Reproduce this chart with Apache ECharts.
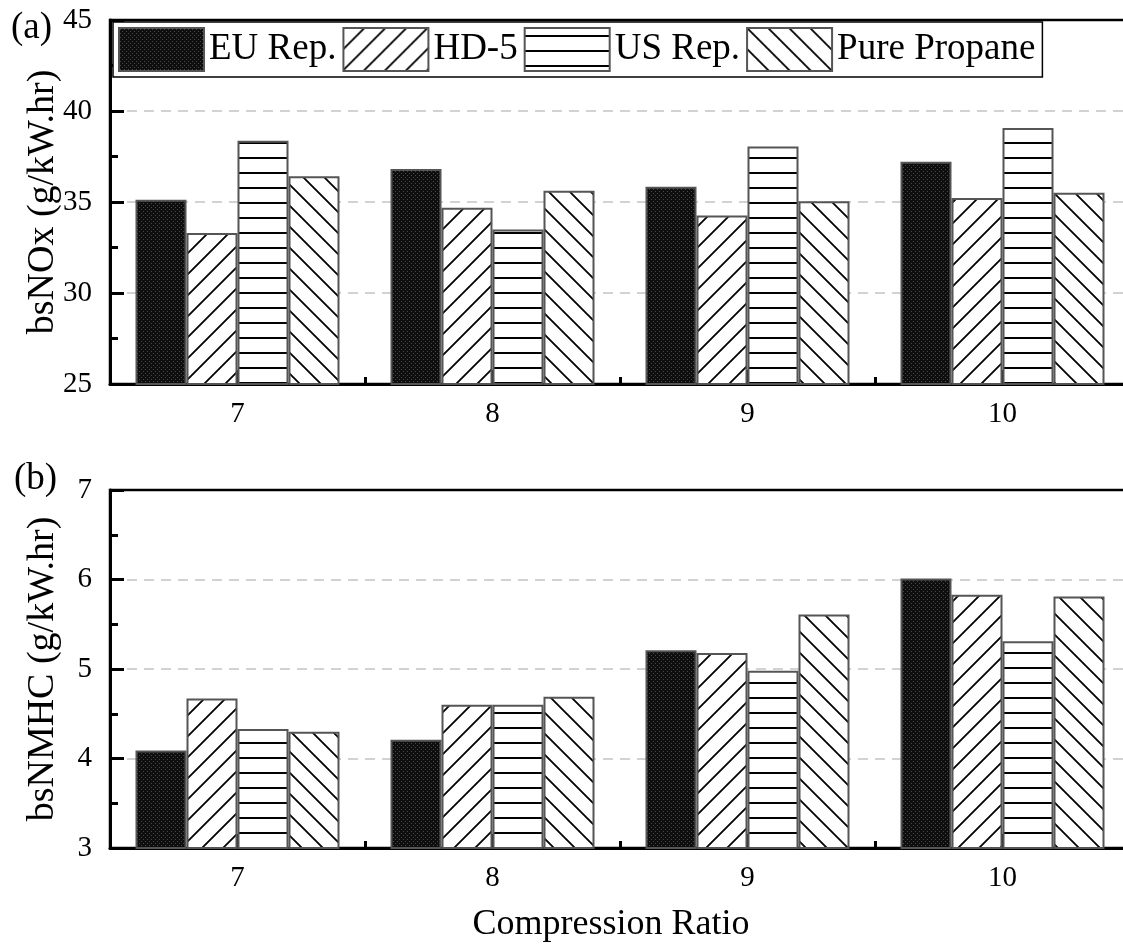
<!DOCTYPE html>
<html><head><meta charset="utf-8">
<script src="https://cdn.jsdelivr.net/npm/echarts@6/dist/echarts.min.js"></script>
<style>html,body{margin:0;padding:0;background:#fff;overflow:hidden;width:1123px;height:944px}
#wrap{width:1123px;height:944px;overflow:hidden;position:relative}
#c{width:1131px;height:944px;position:absolute;left:0;top:0}</style>
</head><body><div id="wrap"><div id="c"></div></div>
<script>
const categories = ['7', '8', '9', '10'];
const seriesNames = ['EU Rep.', 'HD-5', 'US Rep.', 'Pure Propane'];
const noxEU      = [35.13, 36.81, 35.84, 37.21];
const noxHD5     = [33.29, 34.69, 34.26, 35.22];
const noxUS      = [38.36, 33.49, 38.05, 39.06];
const noxPropane = [36.41, 35.62, 35.04, 35.51];
const nmhcEU      = [4.09, 4.21, 5.21, 6.01];
const nmhcHD5     = [4.67, 4.60, 5.18, 5.83];
const nmhcUS      = [4.33, 4.60, 4.98, 5.31];
const nmhcPropane = [4.30, 4.69, 5.61, 5.81];
const panelLabels = ['(a)', '(b)'];
const xTitle = 'Compression Ratio';
const yTitles = ['bsNOx (g/kW.hr)', 'bsNMHC (g/kW.hr)'];

const FONT = 'Liberation Serif, Times New Roman, serif';

function makePattern(kind) {
  const c = document.createElement('canvas');
  let ctx;
  if (kind === 'dots') {
    c.width = 4; c.height = 4; ctx = c.getContext('2d');
    ctx.fillStyle = '#0e0e0e'; ctx.fillRect(0, 0, 4, 4);
    ctx.fillStyle = '#4a4a4a'; ctx.fillRect(1, 1, 1, 1); ctx.fillRect(3, 3, 1, 1);
  } else if (kind === 'fwd' || kind === 'back') {
    const s = 21;
    c.width = s; c.height = s; ctx = c.getContext('2d');
    ctx.fillStyle = '#fff'; ctx.fillRect(0, 0, s, s);
    ctx.strokeStyle = '#000'; ctx.lineWidth = 1.8;
    ctx.beginPath();
    if (kind === 'fwd') {
      ctx.moveTo(-2, s + 2); ctx.lineTo(s + 2, -2);
      ctx.moveTo(-2, 2); ctx.lineTo(2, -2);
      ctx.moveTo(s - 2, s + 2); ctx.lineTo(s + 2, s - 2);
    } else {
      ctx.moveTo(-2, -2); ctx.lineTo(s + 2, s + 2);
      ctx.moveTo(s - 2, -2); ctx.lineTo(s + 2, 2);
      ctx.moveTo(-2, s - 2); ctx.lineTo(2, s + 2);
    }
    ctx.stroke();
  } else {
    c.width = 8; c.height = 15; ctx = c.getContext('2d');
    ctx.fillStyle = '#fff'; ctx.fillRect(0, 0, 8, 15);
    ctx.fillStyle = '#000'; ctx.fillRect(0, 7, 8, 2);
  }
  return { image: c, repeat: 'repeat' };
}
const patterns = [makePattern('dots'), makePattern('fwd'), makePattern('horiz'), makePattern('back')];

const chart = echarts.init(document.getElementById('c'), null, { renderer: 'canvas', width: 1131, height: 944 });

function yAxis(gi, min, max, interval, name) {
  return {
    gridIndex: gi, type: 'value', min, max, interval,
    name, nameLocation: 'middle', nameGap: 48, nameMoveOverlap: false,
    nameTextStyle: { fontSize: 38, fontFamily: FONT, color: '#000' },
    axisLine: { show: true, lineStyle: { color: '#000', width: 3 } },
    axisTick: { show: true, inside: true, length: 14, lineStyle: { color: '#000', width: 3 } },
    minorTick: { show: true, splitNumber: 2, length: 8, lineStyle: { color: '#000', width: 3 } },
    axisLabel: { fontSize: 29, margin: 18, color: '#000', fontFamily: FONT },
    splitLine: { show: true, showMinLine: false, showMaxLine: false, lineStyle: { type: [10, 7], color: '#c4c4c4', width: 1.5 } }
  };
}
function xAxisMain(gi, withName) {
  const a = {
    gridIndex: gi, type: 'category', data: categories, position: 'bottom',
    axisLine: { show: true, lineStyle: { color: '#000', width: 3 } },
    axisTick: { show: true, alignWithLabel: true, inside: true, length: 14, lineStyle: { color: '#000', width: 3 } },
    axisLabel: { fontSize: 29, margin: 16, color: '#000', fontFamily: FONT },
    splitLine: { show: false }
  };
  if (withName) {
    a.name = xTitle; a.nameLocation = 'middle'; a.nameGap = 59; a.nameMoveOverlap = false;
    a.nameTextStyle = { fontSize: 36, fontFamily: FONT, color: '#000', padding: [0, 18, 0, 0] };
  }
  return a;
}
function xAxisMinor(gi) {
  return {
    gridIndex: gi, type: 'category', data: categories, position: 'bottom', offset: 0,
    axisLine: { show: false },
    axisTick: { show: true, inside: true, length: 7, lineStyle: { color: '#000', width: 3 } },
    axisLabel: { show: false }, splitLine: { show: false }
  };
}

const noxData = [noxEU, noxHD5, noxUS, noxPropane];
const nmhcData = [nmhcEU, nmhcHD5, nmhcUS, nmhcPropane];
const series = [];
[noxData, nmhcData].forEach((set, gi) => {
  set.forEach((vals, i) => {
    series.push({
      type: 'bar', name: seriesNames[i], data: vals,
      xAxisIndex: gi * 2, yAxisIndex: gi,
      barGap: '0%', barCategoryGap: '20%',
      itemStyle: { color: patterns[i], borderColor: '#555', borderWidth: 2 },
      emphasis: { disabled: true }
    });
  });
});

chart.setOption({
  animation: false,
  backgroundColor: '#fff',
  grid: [
    { left: 110, width: 1020, top: 20, height: 364, show: true, borderColor: '#000', borderWidth: 2.5, backgroundColor: 'transparent' },
    { left: 110, width: 1020, top: 490, height: 365, show: true, borderColor: '#000', borderWidth: 2.5, backgroundColor: 'transparent' }
  ],
  legend: {
    data: seriesNames, left: 113, top: 22, orient: 'horizontal',
    itemWidth: 85, itemHeight: 43, itemGap: 6, padding: [5, 7, 5, 5],
    backgroundColor: '#fff', borderColor: '#000', borderWidth: 1.5,
    icon: 'rect', selectedMode: false,
    textStyle: { fontSize: 37, fontFamily: FONT, color: '#000' }
  },
  xAxis: [xAxisMain(0, false), xAxisMinor(0), xAxisMain(1, true), xAxisMinor(1)],
  yAxis: [yAxis(0, 25, 45, 5, yTitles[0]), yAxis(1, 3, 7, 1, yTitles[1])],
  graphic: [
    { type: 'text', left: 11, top: 10, style: { text: panelLabels[0], fontSize: 37, fontFamily: FONT, fill: '#000' } },
    { type: 'text', left: 14, top: 461, style: { text: panelLabels[1], fontSize: 37, fontFamily: FONT, fill: '#000' } }
  ],
  series
});
</script></body></html>
